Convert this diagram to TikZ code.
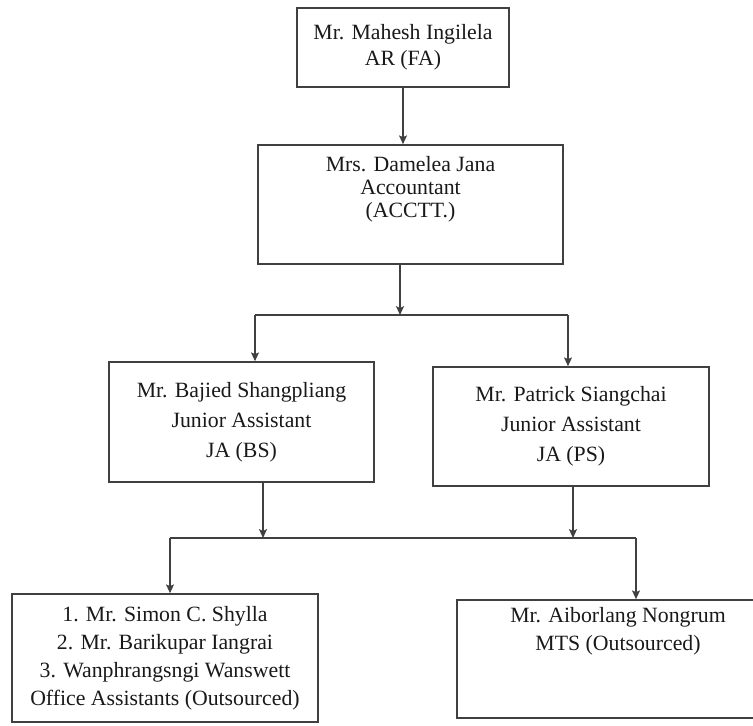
\documentclass[tikz,border=0pt]{standalone}
\usepackage{fontspec}
\setmainfont{Liberation Serif}
\usetikzlibrary{arrows.meta}

\begin{document}
\begin{tikzpicture}[x=1cm, y=1cm, >={Stealth[length=5pt,width=4.5pt,inset=1pt]}, line width=0.9pt, draw=black!75,
	box/.style={draw=black!75, line width=0.9pt, rectangle, align=center, inner sep=0pt, text=black!90, font=\fontsize{12.4}{15.9}\selectfont}]
	
	\useasboundingbox (0,0) rectangle (15.06,-14.52);
	
	% ================= 第一、二层 =================
	\node[box, minimum width=4.24cm, minimum height=1.58cm, font=\fontsize{12.4}{14.8}\selectfont] (mahesh) at (8.06,-0.95) {Mr. Mahesh Ingilela\\AR (FA)};
	\node[box, minimum width=6.10cm, minimum height=2.38cm, font=\fontsize{12.4}{13.2}\selectfont] (damelea) at (8.21,-4.09) {Mrs. Damelea Jana\\Accountant\\(ACCTT.)\\[7pt]\mbox{}};
	
	% ================= 第三层：JA =================
	\node[box, minimum width=5.30cm, minimum height=2.40cm, font=\fontsize{12.4}{17}\selectfont] (bajied) at (4.83,-8.44) {Mr. Bajied Shangpliang\\Junior Assistant\\JA (BS)};
	\node[box, minimum width=5.52cm, minimum height=2.38cm, font=\fontsize{12.4}{17}\selectfont] (patrick) at (11.42,-8.53) {Mr. Patrick Siangchai\\Junior Assistant\\JA (PS)};
	
	% ================= 第四层：外包 =================
	\node[box, minimum width=6.12cm, minimum height=2.56cm] (simon) at (3.30,-13.16) {1. Mr. Simon C. Shylla\\2. Mr. Barikupar Iangrai\\3. Wanphrangsngi Wanswett\\Office Assistants (Outsourced)};
	\node[box, minimum width=6.44cm, minimum height=2.36cm] (aiborlang) at (12.36,-13.18) {Mr. Aiborlang Nongrum\\MTS (Outsourced)\\[18pt]\mbox{}};
	
	% 分叉点
	\coordinate (fork1) at (8.00,-6.30);
	\coordinate (fork1l) at (5.10,-6.30);
	\coordinate (fork1r) at (11.36,-6.30);
	\coordinate (fork2a) at (5.26,-10.76);
	\coordinate (fork2b) at (11.46,-10.76);
	\coordinate (fork2l) at (3.40,-10.76);
	\coordinate (fork2r) at (12.72,-10.76);
	
	% 连线
	\draw[->] (mahesh.south) -- (mahesh.south |- damelea.north);
	\draw[->] (fork1 |- damelea.south) -- (fork1);
	\draw (fork1l) -- (fork1r);
	\draw[->] (fork1l) -- (fork1l |- bajied.north);
	\draw[->] (fork1r) -- (fork1r |- patrick.north);
	
	\draw[->] (fork2a |- bajied.south) -- (fork2a);
	\draw[->] (fork2b |- patrick.south) -- (fork2b);
	\draw (fork2l) -- (fork2r);
	\draw[->] (fork2l) -- (fork2l |- simon.north);
	\draw[->] (fork2r) -- (fork2r |- aiborlang.north);
	
\end{tikzpicture}
\end{document}
